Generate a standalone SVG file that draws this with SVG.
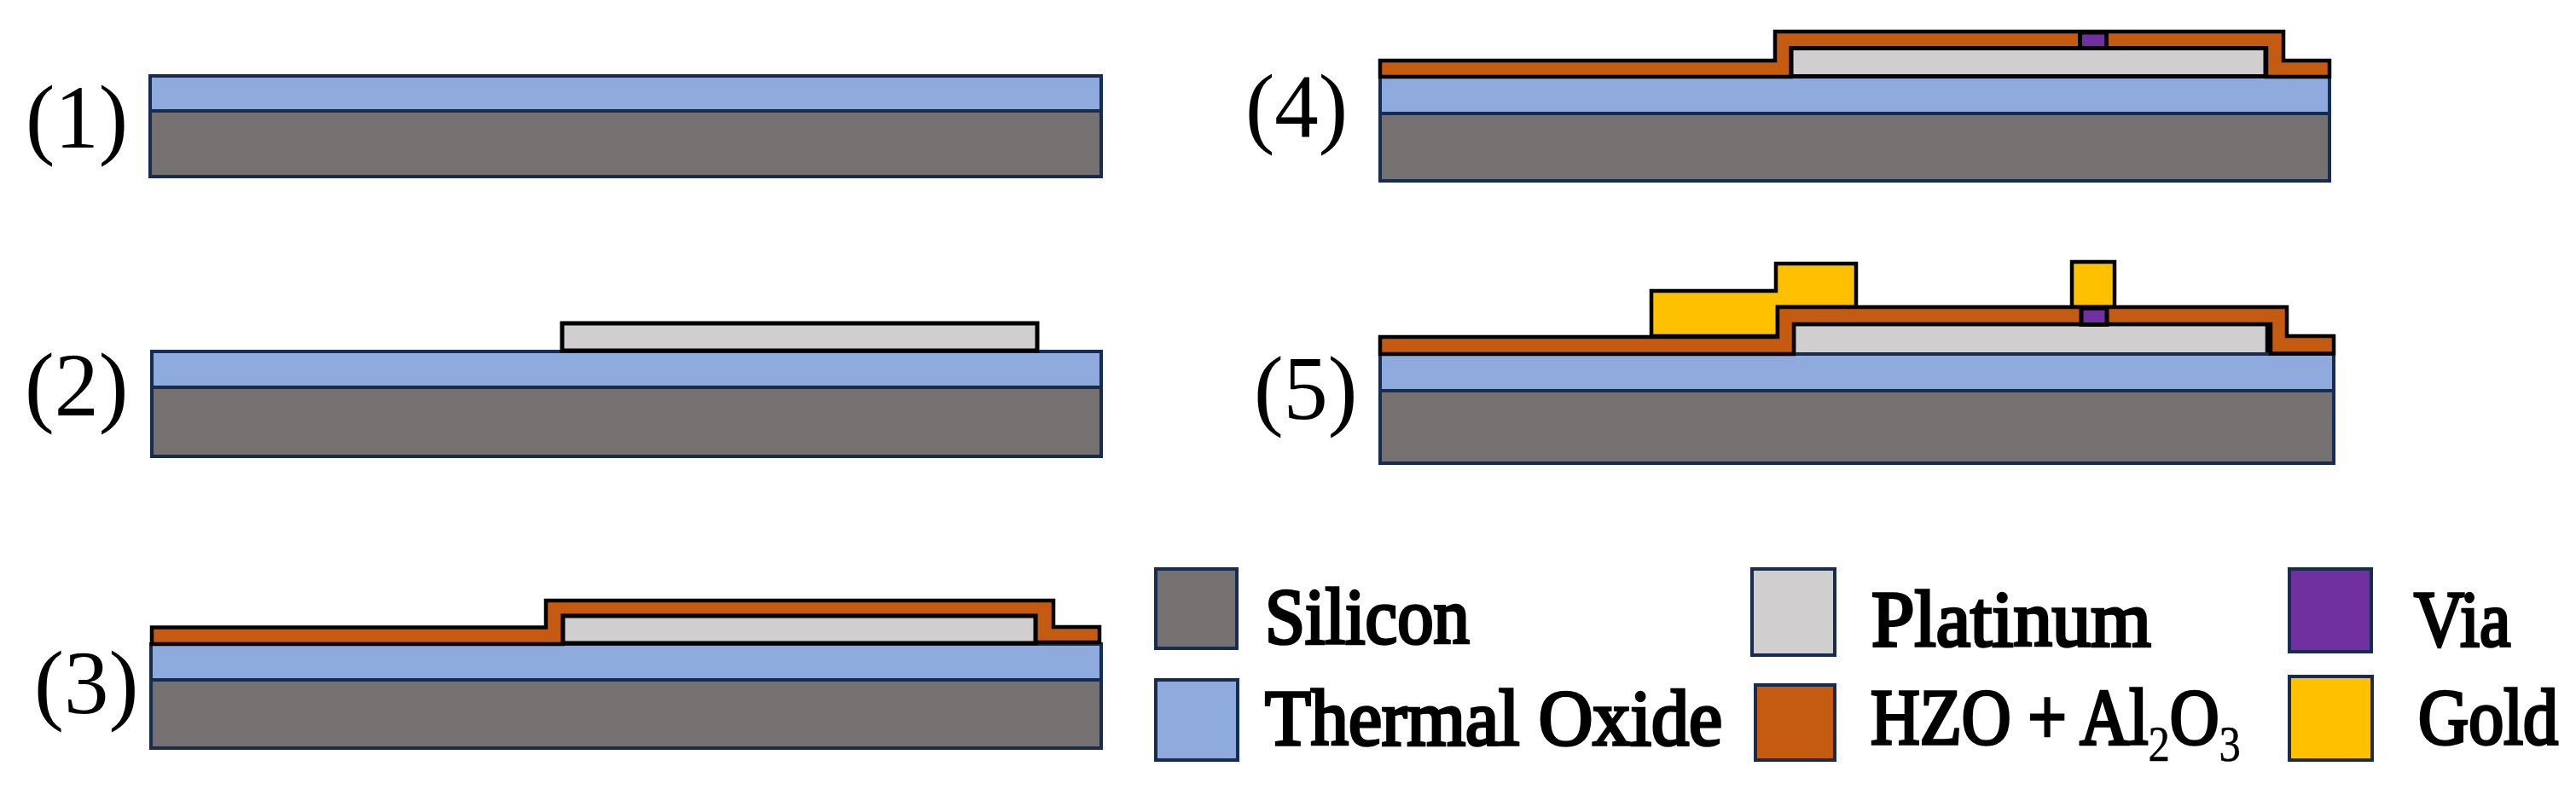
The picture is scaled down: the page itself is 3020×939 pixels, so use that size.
<svg xmlns="http://www.w3.org/2000/svg" width="3020" height="939" viewBox="0 0 3020 939">
<style>
.si{fill:#767171;stroke:#172C51;stroke-width:4}
.ox{fill:#8FAADC;stroke:#172C51;stroke-width:4}
.pt{fill:#D0CECE;stroke:#000;stroke-width:5}
.hz{fill:#C55A11;stroke:#000;stroke-width:4.5}
.via{fill:#7030A0;stroke:#000;stroke-width:5}
.au{fill:#FFC000;stroke:#000;stroke-width:4.5}
.lg{stroke:#172C51;stroke-width:4}
.num{font-family:"Liberation Serif",serif;font-size:100px;fill:#000}
.leg{font-family:"Liberation Serif",serif;font-size:93px;fill:#000;stroke:#000;stroke-width:3.600}
.sub{font-size:59px;stroke-width:0.500}
</style>
<rect width="3020" height="939" fill="#fff"/>
<g id="step1">
<rect class="ox" x="176" y="89" width="1115" height="41"/>
<rect class="si" x="176" y="130" width="1115" height="77"/>
<text class="num" transform="translate(30,173) scale(1.03,1.05)">(1)</text>
</g>
<g id="step2">
<rect class="ox" x="178" y="412" width="1113" height="42"/>
<rect class="si" x="178" y="454" width="1113" height="81"/>
<rect class="pt" x="659" y="379" width="557" height="32"/>
<text class="num" transform="translate(29,487) scale(1.04,1.05)">(2)</text>
</g>
<g id="step3">
<rect class="ox" x="177" y="755" width="1114" height="42"/>
<rect class="si" x="177" y="797" width="1114" height="80"/>
<path class="hz" d="M178 735.500H640V704H1235V735H1289V753H1214V722H660V755H178Z"/>
<rect class="pt" x="660" y="722" width="554" height="32"/>
<text class="num" transform="translate(40,836) scale(1.05,1.05)">(3)</text>
</g>
<g id="step4">
<rect class="ox" x="1618" y="90" width="1113" height="43"/>
<rect class="si" x="1618" y="133" width="1113" height="79"/>
<path class="hz" d="M1618 71H2081V37H2677V71H2731V90H2657V56.500H2100V90H1618Z"/>
<rect class="pt" x="2100" y="56.500" width="556" height="33"/>
<rect class="via" x="2438.500" y="38" width="31" height="18.500"/>
<text class="num" transform="translate(1460,160) scale(1.03,1.05)">(4)</text>
</g>
<g id="step5">
<rect class="ox" x="1618" y="415" width="1118" height="43"/>
<rect class="si" x="1618" y="458" width="1118" height="85"/>
<path d="M2103 413V380H2658V413" fill="#D0CECE"/>
<path d="M2103 413V380H2658V413" fill="none" stroke="#000" stroke-width="4.500"/>
<path class="au" d="M1936 394V341H2082V309H2176V360H2084V394Z"/>
<rect class="au" x="2429" y="307" width="50" height="53"/>
<path class="hz" d="M1618 395H2084V360H2681V394H2736V414.500H2662V380H2103V415H1618Z"/>
<rect class="via" x="2440" y="361.500" width="30" height="19"/>
<text class="num" transform="translate(1470,491) scale(1.04,1.05)">(5)</text>
</g>
<g id="legend">
<g id="legend-silicon">
<rect class="lg" x="1355" y="667" width="95" height="93" fill="#767171"/>
<text class="leg" transform="translate(1483,754) scale(0.91,1)">Silicon</text>
</g>
<g id="legend-oxide">
<rect class="lg" x="1355" y="797" width="96" height="94" fill="#8FAADC"/>
<text class="leg" transform="translate(1483,873) scale(0.948,1)">Thermal Oxide</text>
</g>
<g id="legend-platinum">
<rect class="lg" x="2054" y="667" width="97" height="101" fill="#D0CECE"/>
<text class="leg" transform="translate(2194,757) scale(0.976,1)">Platinum</text>
</g>
<g id="legend-hzo">
<rect class="lg" x="2058" y="803" width="93" height="88" fill="#C55A11"/>
<text class="leg" transform="translate(2193,872) scale(0.861,1)">HZO + Al<tspan class="sub" dy="20">2</tspan><tspan dy="-20">O</tspan><tspan class="sub" dy="20">3</tspan></text>
</g>
<g id="legend-via">
<rect class="lg" x="2684" y="667" width="96" height="97" fill="#7030A0"/>
<text class="leg" transform="translate(2830,757) scale(0.88,1)">Via</text>
</g>
<g id="legend-gold">
<rect class="lg" x="2684" y="793" width="97" height="98" fill="#FFC000"/>
<text class="leg" transform="translate(2835,872) scale(0.882,1)">Gold</text>
</g>
</g>
</svg>
